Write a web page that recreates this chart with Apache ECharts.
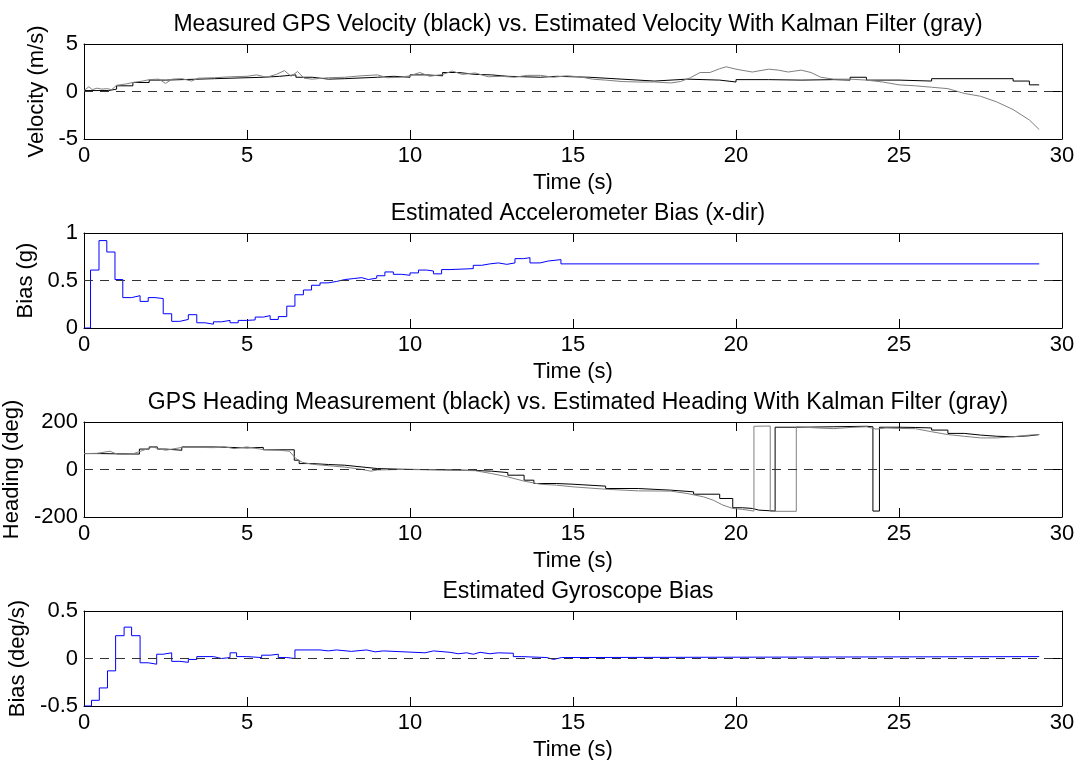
<!DOCTYPE html>
<html>
<head>
<meta charset="utf-8">
<title>GPS / Kalman filter results</title>
<script src="https://cdn.jsdelivr.net/npm/echarts@6/dist/echarts.min.js"></script>
<style>
  html, body { margin: 0; padding: 0; background: #fff; }
  #chart { width: 1081px; height: 760px; }
</style>
</head>
<body>
<div id="chart"></div>
<script>
// ---- values ----

// subplot 1: velocity (m/s)
var velGpsT = [0, 0.75, 1.0, 1.5, 2.0, 2.5, 4.0, 5.0, 5.5, 6.0, 6.5, 7.0, 7.5, 8.0, 9.0, 9.5, 10.0, 10.5, 11.0, 11.5,
  12.0, 12.5, 13.0, 14.0, 14.5, 15.5, 16.5, 17.5, 18.5, 19.5, 20.0, 21.0, 22.0, 23.0, 23.5, 24.0, 25.0, 26.0, 28.5, 29.0, 29.3];
var velGps = [0.1, 0.25, 0.6, 0.95, 1.2, 1.35, 1.45, 1.5, 1.6, 1.75, 1.5, 1.3, 1.35, 1.5, 1.6, 1.5, 1.75, 1.65, 2.0, 1.8,
  1.75, 1.6, 1.5, 1.6, 1.5, 1.3, 1.1, 1.3, 1.2, 1.0, 1.25, 1.2, 1.25, 1.2, 1.5, 1.2, 1.1, 1.35, 1.1, 0.7, 0.7];

var velEstT = [0, 0.15, 0.25, 0.4, 0.55, 0.7, 0.85, 1.0, 1.3, 1.5, 1.8, 2.0, 2.3, 2.5, 2.7, 3.0, 3.3, 3.5, 4.0, 4.5,
  5.0, 5.3, 5.6, 5.9, 6.15, 6.35, 6.55, 6.75, 7.0, 7.5, 8.0, 8.5, 9.0, 9.3, 9.7, 10.0, 10.3, 10.6, 11.0, 11.3,
  11.6, 12.0, 12.4, 12.8, 13.2, 13.6, 14.0, 14.4, 14.8, 15.2, 15.6, 16.0, 16.5, 17.0, 17.5, 18.0, 18.3, 18.6, 18.9, 19.2,
  19.5, 19.7, 20.0, 20.5, 21.0, 21.3, 21.6, 22.0, 22.3, 22.6, 23.0, 23.5, 24.0, 24.5, 25.0, 25.5, 26.0, 26.5, 27.0, 27.5,
  28.0, 28.5, 29.0, 29.3];
var velEst = [0.1, 0.5, 0.2, 0.35, 0.25, 0.3, 0.2, 0.65, 0.8, 0.95, 1.1, 1.25, 1.3, 0.85, 1.3, 1.35, 1.1, 1.4, 1.45, 1.55,
  1.6, 1.75, 1.5, 1.8, 2.2, 1.6, 2.1, 1.4, 1.3, 1.45, 1.5, 1.65, 1.75, 1.45, 1.5, 1.65, 2.0, 1.6, 1.8, 2.15,
  1.8, 1.95, 1.55, 1.6, 1.5, 1.7, 1.7, 1.5, 1.65, 1.55, 1.3, 1.2, 1.05, 1.0, 1.0, 0.9, 1.05, 1.45, 2.0, 2.0,
  2.4, 2.6, 2.35, 2.05, 2.35, 2.25, 2.05, 2.25, 2.0, 1.5, 1.3, 1.3, 1.2, 1.0, 0.7, 0.6, 0.45, 0.3, -0.2, -0.5,
  -1.1, -1.9, -3.0, -4.0];

// subplot 2: accelerometer bias (g), held between updates
var accT = [0, 0.2, 0.46, 0.7, 0.95, 1.19, 1.46, 1.72, 1.97, 2.18, 2.43, 2.69, 2.94, 3.2, 3.46, 3.71, 3.97, 4.22, 4.48, 4.73,
  4.99, 5.25, 5.5, 5.71, 5.96, 6.22, 6.47, 6.73, 6.98, 7.24, 7.49, 7.75, 8.0, 8.26, 8.52, 8.72, 8.98, 9.23, 9.49, 9.74,
  10.0, 10.26, 10.51, 10.72, 10.97, 11.23, 11.94, 12.2, 12.45, 12.71, 12.97, 13.22, 13.48, 13.68, 13.99, 14.24, 14.63, 29.3];
var accBias = [0, 0.61, 0.92, 0.8, 0.51, 0.32, 0.34, 0.28, 0.32, 0.31, 0.15, 0.07, 0.09, 0.14, 0.055, 0.04, 0.065, 0.08, 0.055, 0.08,
  0.085, 0.115, 0.13, 0.09, 0.12, 0.23, 0.35, 0.4, 0.45, 0.475, 0.49, 0.51, 0.52, 0.53, 0.51, 0.525, 0.55, 0.59, 0.565, 0.555,
  0.58, 0.61, 0.6, 0.57, 0.615, 0.625, 0.66, 0.675, 0.685, 0.67, 0.685, 0.73, 0.74, 0.685, 0.705, 0.72, 0.675, 0.675];

// subplot 3: heading (deg)
var hdgGpsT = [0, 0.5, 1.0, 1.7, 2.0, 2.25, 2.5, 3.0, 4.0, 5.0, 5.5, 6.45, 6.6, 7.0, 7.5, 8.0, 8.5, 9.0, 10.0, 11.0,
  12.0, 12.5, 13.0, 13.5, 13.8, 14.5, 15.0, 16.0, 17.0, 18.0, 18.7, 19.5, 19.9, 20.2, 20.5, 20.7, 21.2, 22.0, 23.0, 24.0,
  24.2, 24.4, 25.0, 25.5, 26.0, 26.5, 27.0, 27.5, 28.0, 28.5, 29.0, 29.3];
var hdgGps = [67, 66, 65, 86, 95, 86, 81, 95, 91, 93, 83, 39, 25, 21, 18, 11, 4, 0, -1, -4,
  -7, -13, -24, -45, -59, -62, -70, -80, -87, -94, -104, -122, -161, -164, -171, -175, 178, 180, 182, 180,
  -175, 178, 177, 175, 166, 152, 145, 140, 138, 142, 147, 147];

var hdgEstT = [0, 0.4, 0.8, 1.0, 1.3, 1.5, 1.8, 2.1, 2.5, 3.0, 3.5, 4.0, 4.3, 4.6, 5.0, 5.5, 6.0, 6.3, 6.5, 6.7,
  7.0, 8.0, 8.5, 8.8, 9.0, 10.0, 11.0, 12.0, 12.5, 13.0, 13.5, 14.0, 14.5, 15.0, 16.0, 17.0, 18.0, 18.5, 19.0, 19.3,
  19.6, 19.9, 20.2, 20.55, 20.55, 21.05, 21.05, 21.85, 21.85, 22.5, 23.0, 23.5, 24.0, 24.3, 24.6, 25.0, 25.5, 26.0, 26.5, 27.0,
  27.5, 28.0, 28.5, 29.0, 29.3];
var hdgEst = [67, 68, 77, 65, 63, 66, 80, 95, 81, 93, 93, 92, 96, 88, 95, 84, 81, 77, 46, 30,
  22, 10, 1, -7, -2, 1, -2, -5, -17, -31, -49, -62, -66, -73, -83, -90, -91, -101, -115, -129,
  -150, -164, -168, -175, 182, 183, -176, -176, 180, 175, 172, 177, 180, 170, 175, 173, 172, 159, 147, 140,
  133, 133, 138, 145, 147];

// subplot 4: gyroscope bias (deg/s), held between updates
var gyroT = [0, 0.23, 0.47, 0.72, 0.97, 1.23, 1.46, 1.72, 1.97, 2.23, 2.43, 2.69, 2.94, 3.2, 3.46, 3.97, 4.22, 4.48, 4.68, 4.99,
  5.45, 5.71, 5.96, 6.22, 6.47, 7.24, 7.49, 7.75, 8.2, 8.67, 8.93, 9.18, 10.46, 10.72, 11.23, 11.48, 11.74, 11.94, 12.15, 12.45,
  12.71, 13.17, 13.43, 14.2, 14.4, 14.65, 29.3];
var gyroBias = [-0.5, -0.44, -0.31, -0.13, 0.24, 0.33, 0.24, -0.045, -0.06, 0.045, 0.06, -0.03, -0.04, -0.01, 0.02, 0.0, 0.01, 0.06, 0.02, 0.01,
  0.035, 0.045, 0.01, 0.0, 0.09, 0.08, 0.09, 0.075, 0.09, 0.07, 0.08, 0.06, 0.08, 0.065, 0.05, 0.06, 0.045, 0.065, 0.05, 0.06,
  0.055, 0.02, 0.01, -0.01, 0.01, 0.02, 0.02];

var titles = [
  'Measured GPS Velocity (black) vs. Estimated Velocity With Kalman Filter (gray)',
  'Estimated Accelerometer Bias (x-dir)',
  'GPS Heading Measurement (black) vs. Estimated Heading With Kalman Filter (gray)',
  'Estimated Gyroscope Bias'
];
var yNames = ['Velocity (m/s)', 'Bias (g)', 'Heading (deg)', 'Bias (deg/s)'];
var yRanges = [[-5, 5, 5], [0, 1, 0.5], [-200, 200, 200], [-0.5, 0.5, 0.5]];
var refLines = [0, 0.5, 0, 0];

// ---- layout ----
var FONT = 'Liberation Sans, Arial, Helvetica, sans-serif';
var FS = 22, TITLE_FS = 23;
var LEFT = 84, RIGHT = 1062;
var tops = [44, 233, 422, 611];
var plotH = 95;
var yNameGaps = [31, 41, 57, 48];

function zip(t, v) {
  var out = [];
  for (var i = 0; i < t.length; i++) out.push([t[i], v[i]]);
  return out;
}

var chart = echarts.init(document.getElementById('chart'));

var grids = [], xAxes = [], yAxes = [], titleList = [], series = [];
var black = '#000000', gray = '#808080', blue = '#0000ff';

var tick = { show: true, inside: true, length: 9, lineStyle: { color: '#000', width: 1 } };
var line = { show: true, onZero: false, lineStyle: { color: '#000', width: 1 } };
var lbl = { color: '#000', fontSize: FS, fontFamily: FONT };

for (var k = 0; k < 4; k++) {
  grids.push({
    left: LEFT, width: RIGHT - LEFT, top: tops[k], height: plotH,
    containLabel: false, outerBoundsMode: 'none'
  });
  titleList.push({
    text: titles[k], left: (LEFT + RIGHT) / 2, top: tops[k] - 36, textAlign: 'center',
    textStyle: { color: '#000', fontSize: TITLE_FS, fontWeight: 'normal', fontFamily: FONT }
  });
  xAxes.push({
    gridIndex: k, type: 'value', min: 0, max: 30, interval: 5, position: 'bottom',
    axisLine: line, axisTick: tick, splitLine: { show: false },
    axisLabel: Object.assign({ margin: 6 }, lbl),
    name: 'Time (s)', nameLocation: 'middle', nameGap: 33, nameTextStyle: lbl
  });
  xAxes.push({
    gridIndex: k, type: 'value', min: 0, max: 30, interval: 5, position: 'top',
    axisLine: line, axisTick: tick, splitLine: { show: false }, axisLabel: { show: false }
  });
  var r = yRanges[k];
  yAxes.push({
    gridIndex: k, type: 'value', min: r[0], max: r[1], interval: r[2], position: 'left',
    axisLine: line, axisTick: tick, splitLine: { show: false },
    axisLabel: Object.assign({ margin: 6 }, lbl),
    name: yNames[k], nameLocation: 'middle', nameGap: yNameGaps[k], nameTextStyle: lbl
  });
  yAxes.push({
    gridIndex: k, type: 'value', min: r[0], max: r[1], interval: r[2], position: 'right',
    axisLine: line, axisTick: tick, splitLine: { show: false }, axisLabel: { show: false }
  });
}

function dashed(y) {
  return {
    silent: true, symbol: ['none', 'none'], label: { show: false },
    lineStyle: { color: '#333', width: 1, type: [9, 7] },
    data: [{ yAxis: y }]
  };
}

function lineSeries(k, data, color, step, withRef) {
  var s = {
    type: 'line', xAxisIndex: 2 * k, yAxisIndex: 2 * k, data: data,
    showSymbol: false, symbol: 'none', step: step || false,
    lineStyle: { color: color, width: 1 }, itemStyle: { color: color }
  };
  if (withRef) s.markLine = dashed(refLines[k]);
  return s;
}

series.push(lineSeries(0, zip(velGpsT, velGps), black, 'end', true));
series.push(lineSeries(0, zip(velEstT, velEst), gray, false, false));
series.push(lineSeries(1, zip(accT, accBias), blue, 'end', true));
series.push(lineSeries(2, zip(hdgGpsT, hdgGps), black, 'end', true));
series.push(lineSeries(2, zip(hdgEstT, hdgEst), gray, false, false));
series.push(lineSeries(3, zip(gyroT, gyroBias), blue, 'end', true));

chart.setOption({
  animation: false,
  backgroundColor: '#fff',
  textStyle: { fontFamily: FONT },
  title: titleList,
  grid: grids,
  xAxis: xAxes,
  yAxis: yAxes,
  series: series
});
</script>
</body>
</html>
